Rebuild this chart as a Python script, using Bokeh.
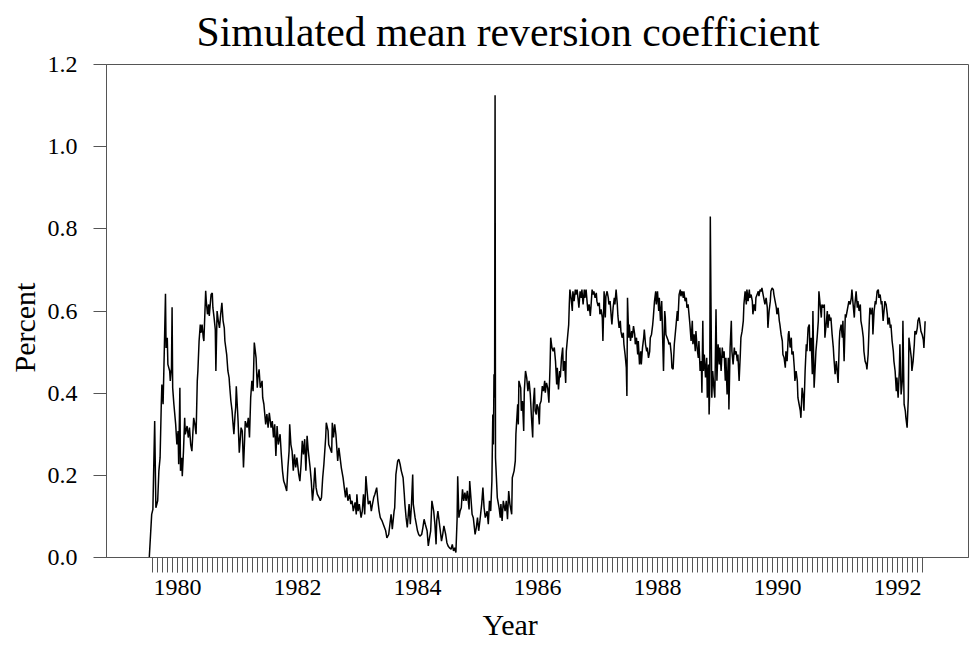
from bokeh.plotting import figure
from bokeh.models import Range1d, FixedTicker, PrintfTickFormatter, Title
from bokeh.embed import file_html
from bokeh.resources import INLINE

# (decimal year, coefficient)
seg_1979_1981 = [(1979.53,0.000),(1979.57,0.105),(1979.59,0.117),(1979.62,0.332),(1979.64,0.121),(1979.67,0.138),(1979.69,0.211),(1979.71,0.243),(1979.73,0.373),(1979.74,0.421),
 (1979.76,0.373),(1979.78,0.502),(1979.80,0.642),(1979.81,0.510),(1979.83,0.535),(1979.84,0.470),(1979.87,0.454),(1979.88,0.430),(1979.90,0.462),(1979.91,0.609),
 (1979.92,0.413),(1979.94,0.373),(1979.97,0.324),(1979.99,0.275),(1980.01,0.308),(1980.02,0.227),(1980.04,0.413),(1980.05,0.211),(1980.07,0.243),(1980.08,0.198),
 (1980.10,0.259),(1980.12,0.340),(1980.13,0.300),(1980.16,0.320),(1980.18,0.292),(1980.20,0.316),(1980.22,0.275),(1980.24,0.259),(1980.27,0.340),(1980.29,0.324),
 (1980.31,0.300),(1980.33,0.430),(1980.34,0.454),(1980.36,0.527),(1980.38,0.567),(1980.39,0.547),(1980.41,0.567),(1980.43,0.535),(1980.44,0.527),(1980.47,0.649),
 (1980.48,0.624),(1980.50,0.592),(1980.52,0.616),(1980.53,0.588),(1980.56,0.640),(1980.58,0.644),(1980.59,0.608),(1980.61,0.584),(1980.63,0.555),(1980.64,0.454),
 (1980.66,0.600),(1980.68,0.576),(1980.70,0.559),(1980.72,0.592),(1980.74,0.620),(1980.76,0.576),(1980.78,0.559),(1980.79,0.527),(1980.82,0.494),(1980.84,0.454),
 (1980.86,0.438),(1980.87,0.417),(1980.89,0.381),(1980.91,0.357),(1980.92,0.336),(1980.94,0.300),(1980.96,0.349),(1980.97,0.365),(1980.98,0.417),(1981.01,0.332),
 (1981.03,0.255),(1981.06,0.316),(1981.08,0.308),(1981.10,0.219),(1981.12,0.292),(1981.13,0.332),(1981.16,0.316),(1981.18,0.340),(1981.20,0.292),(1981.22,0.389),
 (1981.24,0.430),(1981.26,0.405),(1981.28,0.523),(1981.31,0.486),(1981.33,0.413),(1981.34,0.438),(1981.36,0.458),(1981.38,0.413),(1981.41,0.430),(1981.42,0.389),
 (1981.44,0.373),(1981.47,0.324),(1981.49,0.349),(1981.51,0.316),(1981.53,0.352),(1981.56,0.316),(1981.58,0.332),(1981.60,0.292),(1981.62,0.324)]

seg_1981_1983 = [(1981.64,0.247),(1981.66,0.320),(1981.68,0.275),(1981.71,0.300),(1981.73,0.251),(1981.75,0.211),(1981.77,0.186),(1981.79,0.178),(1981.82,0.162),(1981.84,0.219),
 (1981.86,0.259),(1981.87,0.324),(1981.89,0.275),(1981.91,0.259),(1981.93,0.211),(1981.95,0.251),(1981.97,0.219),(1981.99,0.243),(1982.02,0.203),(1982.04,0.186),
 (1982.06,0.227),(1982.08,0.284),(1982.10,0.251),(1982.12,0.288),(1982.14,0.211),(1982.16,0.296),(1982.18,0.259),(1982.21,0.219),(1982.23,0.186),(1982.25,0.138),
 (1982.27,0.170),(1982.29,0.219),(1982.31,0.170),(1982.33,0.154),(1982.36,0.146),(1982.38,0.138),(1982.40,0.146),(1982.42,0.194),(1982.44,0.227),(1982.47,0.292),
 (1982.48,0.328),(1982.51,0.308),(1982.52,0.275),(1982.54,0.267),(1982.57,0.255),(1982.58,0.328),(1982.60,0.292),(1982.62,0.324),(1982.64,0.300),(1982.67,0.235),
 (1982.69,0.267),(1982.71,0.243),(1982.73,0.219),(1982.76,0.194),(1982.78,0.170),(1982.80,0.146),(1982.82,0.170),(1982.84,0.138),(1982.87,0.154),(1982.89,0.130),
 (1982.91,0.138),(1982.93,0.113),(1982.96,0.134),(1982.98,0.105),(1982.99,0.154),(1983.01,0.113),(1983.03,0.130),(1983.06,0.097),(1983.08,0.113),(1983.10,0.154),
 (1983.12,0.105),(1983.14,0.198),(1983.16,0.162),(1983.18,0.130),(1983.21,0.138),(1983.23,0.113),(1983.25,0.130),(1983.27,0.146),(1983.29,0.154),(1983.32,0.170),
 (1983.34,0.138),(1983.36,0.113),(1983.38,0.097),(1983.41,0.089),(1983.43,0.081),(1983.45,0.073),(1983.47,0.065),(1983.49,0.048),(1983.52,0.056),(1983.54,0.081),
 (1983.56,0.105),(1983.58,0.069),(1983.61,0.113),(1983.62,0.121),(1983.64,0.202),(1983.67,0.235),(1983.69,0.239),(1983.71,0.227),(1983.73,0.211),(1983.76,0.194),
 (1983.78,0.154),(1983.79,0.130)]

seg_1983_1985 = [(1983.81,0.097),(1983.83,0.073),(1983.86,0.130),(1983.88,0.081),(1983.90,0.130),(1983.92,0.202),(1983.93,0.130),(1983.96,0.097),(1983.98,0.081),(1984.00,0.065),
 (1984.02,0.056),(1984.04,0.052),(1984.07,0.056),(1984.09,0.073),(1984.11,0.093),(1984.13,0.081),(1984.16,0.065),(1984.18,0.028),(1984.20,0.048),(1984.22,0.065),
 (1984.24,0.138),(1984.27,0.113),(1984.29,0.081),(1984.31,0.032),(1984.32,0.089),(1984.34,0.113),(1984.36,0.089),(1984.38,0.065),(1984.40,0.040),(1984.42,0.056),
 (1984.44,0.077),(1984.47,0.056),(1984.49,0.036),(1984.51,0.028),(1984.53,0.024),(1984.56,0.020),(1984.58,0.032),(1984.60,0.016),(1984.62,0.024),(1984.64,0.012),
 (1984.66,0.093),(1984.67,0.198),(1984.69,0.097),(1984.71,0.113),(1984.73,0.121),(1984.75,0.166),(1984.77,0.138),(1984.79,0.158),(1984.81,0.138),(1984.83,0.162),
 (1984.86,0.117),(1984.87,0.186),(1984.89,0.146),(1984.91,0.105),(1984.93,0.097),(1984.96,0.056),(1984.98,0.073),(1985.00,0.097),(1985.02,0.065),(1985.04,0.089),
 (1985.07,0.130),(1985.09,0.170),(1985.11,0.121),(1985.13,0.097),(1985.16,0.113),(1985.18,0.081),(1985.20,0.138),(1985.22,0.113),(1985.24,0.186),(1985.255,0.348),
 (1985.265,0.275),(1985.275,0.446),(1985.285,0.389),(1985.293,1.125),(1985.30,0.243),(1985.31,0.211),(1985.33,0.146),(1985.36,0.121),(1985.38,0.097),(1985.39,0.130),
 (1985.41,0.089),(1985.43,0.138),(1985.46,0.113),(1985.48,0.138),(1985.50,0.093),(1985.52,0.162),(1985.54,0.130),(1985.57,0.105),(1985.58,0.194),(1985.61,0.211),
 (1985.63,0.235),(1985.64,0.300),(1985.67,0.373),(1985.68,0.324),(1985.69,0.430),(1985.72,0.413),(1985.73,0.357),(1985.75,0.381),(1985.77,0.308),(1985.78,0.405),
 (1985.80,0.454),(1985.82,0.438),(1985.84,0.405),(1985.86,0.430),(1985.88,0.397),(1985.90,0.340),(1985.92,0.292),(1985.93,0.373),(1985.95,0.413),(1985.96,0.357)]

seg_1986_1988 = [(1985.98,0.348),(1985.99,0.373),(1986.01,0.365),(1986.03,0.324),(1986.04,0.373),(1986.06,0.381),(1986.08,0.417),(1986.10,0.405),(1986.12,0.430),(1986.13,0.401),
 (1986.15,0.425),(1986.17,0.413),(1986.19,0.377),(1986.21,0.470),(1986.22,0.535),(1986.24,0.511),(1986.26,0.502),(1986.28,0.511),(1986.30,0.478),(1986.32,0.421),
 (1986.33,0.462),(1986.35,0.409),(1986.37,0.454),(1986.38,0.438),(1986.40,0.486),(1986.42,0.511),(1986.43,0.454),(1986.45,0.478),(1986.47,0.425),(1986.48,0.502),
 (1986.50,0.535),(1986.52,0.567),(1986.53,0.616),(1986.54,0.652),(1986.56,0.632),(1986.58,0.600),(1986.59,0.648),(1986.61,0.624),(1986.63,0.652),(1986.64,0.640),
 (1986.66,0.652),(1986.68,0.624),(1986.69,0.608),(1986.71,0.648),(1986.73,0.632),(1986.74,0.652),(1986.76,0.616),(1986.78,0.652),(1986.79,0.632),(1986.81,0.652),
 (1986.83,0.616),(1986.84,0.600),(1986.86,0.616),(1986.88,0.588),(1986.89,0.608),(1986.91,0.652),(1986.93,0.640),(1986.94,0.648),(1986.96,0.632),(1986.98,0.644),
 (1986.99,0.624),(1987.01,0.612),(1987.03,0.620),(1987.04,0.592),(1987.06,0.604),(1987.08,0.584),(1987.09,0.527),(1987.11,0.648),(1987.13,0.584),(1987.14,0.636),
 (1987.16,0.648),(1987.18,0.632),(1987.19,0.616),(1987.21,0.624),(1987.23,0.584),(1987.24,0.567),(1987.26,0.608),(1987.28,0.632),(1987.29,0.616),(1987.31,0.652),
 (1987.33,0.616),(1987.34,0.588),(1987.36,0.559),(1987.38,0.576),(1987.39,0.551),(1987.41,0.535),(1987.43,0.547),(1987.44,0.519),(1987.46,0.494),(1987.48,0.462),
 (1987.49,0.393),(1987.50,0.632),(1987.52,0.535),(1987.53,0.567),(1987.55,0.527),(1987.57,0.551),(1987.58,0.535),(1987.60,0.563),(1987.62,0.543),(1987.63,0.519),
 (1987.65,0.535),(1987.67,0.494),(1987.68,0.527),(1987.70,0.470),(1987.72,0.502),(1987.73,0.470),(1987.75,0.511),(1987.77,0.535),(1987.78,0.555),(1987.80,0.519),
 (1987.82,0.502),(1987.83,0.511),(1987.85,0.486),(1987.87,0.502),(1987.88,0.535),(1987.90,0.543),(1987.92,0.567),(1987.93,0.584),(1987.95,0.624),(1987.97,0.648),
 (1987.98,0.616),(1988.00,0.648),(1988.02,0.600),(1988.03,0.632),(1988.05,0.576),(1988.07,0.624),(1988.08,0.567),(1988.10,0.454),(1988.12,0.600),(1988.13,0.584)]

seg_1988_1990 = [(1988.14,0.543),(1988.16,0.535),(1988.18,0.527),(1988.19,0.519),(1988.21,0.523),(1988.23,0.494),(1988.24,0.462),(1988.26,0.458),(1988.28,0.519),(1988.29,0.535),
 (1988.31,0.567),(1988.33,0.600),(1988.34,0.576),(1988.36,0.640),(1988.38,0.652),(1988.39,0.636),(1988.41,0.648),(1988.43,0.632),(1988.44,0.648),(1988.46,0.624),
 (1988.48,0.632),(1988.49,0.608),(1988.51,0.616),(1988.53,0.584),(1988.54,0.567),(1988.56,0.527),(1988.58,0.576),(1988.59,0.519),(1988.61,0.543),(1988.63,0.502),
 (1988.64,0.551),(1988.66,0.511),(1988.68,0.486),(1988.69,0.527),(1988.71,0.454),(1988.73,0.478),(1988.74,0.401),(1988.755,0.576),(1988.765,0.454),(1988.78,0.494),
 (1988.80,0.438),(1988.82,0.486),(1988.83,0.389),(1988.85,0.470),(1988.86,0.348),(1988.87,0.405),(1988.88,0.830),(1988.89,0.640),(1988.905,0.389),(1988.92,0.454),
 (1988.94,0.413),(1988.955,0.389),(1988.965,0.494),(1988.975,0.604),(1988.99,0.430),(1989.01,0.519),(1989.03,0.470),(1989.04,0.511),(1989.06,0.454),(1989.08,0.511),
 (1989.09,0.486),(1989.11,0.502),(1989.13,0.430),(1989.14,0.486),(1989.16,0.397),(1989.18,0.486),(1989.19,0.360),(1989.21,0.511),(1989.23,0.576),(1989.24,0.502),
 (1989.26,0.470),(1989.28,0.511),(1989.29,0.494),(1989.31,0.502),(1989.33,0.478),(1989.34,0.494),(1989.36,0.430),(1989.38,0.494),(1989.39,0.535),(1989.41,0.551),
 (1989.43,0.576),(1989.44,0.616),(1989.46,0.648),(1989.48,0.616),(1989.49,0.652),(1989.51,0.624),(1989.53,0.652),(1989.54,0.632),(1989.56,0.640),(1989.58,0.624),
 (1989.59,0.592),(1989.61,0.616),(1989.63,0.600),(1989.64,0.632),(1989.66,0.640),(1989.68,0.648),(1989.69,0.636),(1989.71,0.652),(1989.73,0.648),(1989.74,0.656),
 (1989.76,0.640),(1989.78,0.624),(1989.79,0.616),(1989.81,0.632),(1989.83,0.608),(1989.84,0.559),(1989.86,0.600),(1989.88,0.624),(1989.89,0.648),(1989.91,0.656),
 (1989.93,0.652),(1989.94,0.640),(1989.96,0.624),(1989.98,0.608),(1989.99,0.592),(1990.01,0.608),(1990.03,0.576),(1990.04,0.567),(1990.06,0.543),(1990.08,0.527),
 (1990.09,0.494),(1990.11,0.486),(1990.13,0.462),(1990.14,0.502),(1990.16,0.478),(1990.18,0.543),(1990.19,0.551),(1990.21,0.511),(1990.23,0.535),(1990.24,0.494),
 (1990.26,0.502),(1990.28,0.462),(1990.29,0.430)]

seg_1990_1992 = [(1990.31,0.454),(1990.33,0.430),(1990.34,0.389),(1990.36,0.373),(1990.38,0.357),(1990.39,0.340),(1990.41,0.413),(1990.43,0.389),(1990.44,0.357),(1990.46,0.454),
 (1990.48,0.519),(1990.49,0.502),(1990.51,0.559),(1990.53,0.567),(1990.54,0.502),(1990.56,0.535),(1990.58,0.446),(1990.59,0.600),(1990.61,0.413),(1990.63,0.470),
 (1990.64,0.502),(1990.66,0.535),(1990.68,0.576),(1990.69,0.648),(1990.71,0.616),(1990.73,0.584),(1990.74,0.616),(1990.76,0.608),(1990.78,0.616),(1990.79,0.535),
 (1990.81,0.567),(1990.83,0.600),(1990.84,0.559),(1990.86,0.592),(1990.88,0.576),(1990.89,0.584),(1990.91,0.543),(1990.93,0.511),(1990.94,0.486),(1990.96,0.446),
 (1990.98,0.478),(1990.99,0.462),(1991.01,0.425),(1991.03,0.527),(1991.04,0.551),(1991.06,0.567),(1991.08,0.535),(1991.09,0.576),(1991.11,0.478),(1991.13,0.592),
 (1991.14,0.584),(1991.16,0.600),(1991.18,0.616),(1991.19,0.624),(1991.21,0.616),(1991.23,0.632),(1991.24,0.652),(1991.26,0.616),(1991.28,0.584),(1991.29,0.616),
 (1991.31,0.648),(1991.33,0.608),(1991.34,0.624),(1991.36,0.600),(1991.38,0.616),(1991.39,0.576),(1991.41,0.559),(1991.43,0.535),(1991.44,0.502),(1991.46,0.478),
 (1991.48,0.470),(1991.49,0.458),(1991.51,0.494),(1991.53,0.576),(1991.54,0.608),(1991.56,0.592),(1991.58,0.608),(1991.59,0.543),(1991.61,0.600),(1991.63,0.624),
 (1991.64,0.616),(1991.66,0.648),(1991.68,0.652),(1991.69,0.632),(1991.71,0.640),(1991.73,0.616),(1991.74,0.624),(1991.76,0.576),(1991.78,0.608),(1991.79,0.624),
 (1991.81,0.616),(1991.83,0.592),(1991.84,0.567),(1991.86,0.584),(1991.88,0.559),(1991.89,0.567),(1991.91,0.527),(1991.93,0.502),(1991.94,0.478),(1991.96,0.454),
 (1991.98,0.405),(1991.99,0.438),(1992.01,0.389),(1992.03,0.454),(1992.04,0.519),(1992.06,0.397),(1992.08,0.430),(1992.09,0.576),(1992.11,0.373),(1992.13,0.357),
 (1992.14,0.340),(1992.16,0.316),(1992.18,0.389),(1992.19,0.535),(1992.21,0.511),(1992.23,0.486),(1992.24,0.454),(1992.26,0.478),(1992.28,0.519),(1992.29,0.551),
 (1992.31,0.543),(1992.33,0.559),(1992.34,0.576),(1992.36,0.584),(1992.38,0.563),(1992.39,0.551),(1992.41,0.543),(1992.43,0.530),(1992.44,0.510),(1992.46,0.575)]

segments = [seg_1979_1981, seg_1981_1983, seg_1983_1985, seg_1986_1988, seg_1988_1990, seg_1990_1992]
years = [p[0] for s in segments for p in s]
coef = [p[1] for s in segments for p in s]

title_text = "Simulated mean reversion coefficient"
x_label = "Year"
y_label = "Percent"
year_labels = [1980, 1982, 1984, 1986, 1988, 1990, 1992]
y_ticks = [0.0, 0.2, 0.4, 0.6, 0.8, 1.0, 1.2]
month_ticks = [1979 + m / 12 for m in range(7, 162)]  # Aug 1979 .. Jun 1992

FONT = "Liberation Serif"
AX = "#555555"

p = figure(width=974, height=653, output_backend="svg", toolbar_location=None, title=None,
           x_range=Range1d(1978.817, 1993.183), y_range=Range1d(0, 1.2),
           min_border_left=106, min_border_right=6, min_border_top=63, min_border_bottom=96)
p.background_fill_color = "white"
p.border_fill_color = "white"
p.outline_line_color = AX
p.outline_line_width = 1
p.xgrid.visible = False
p.ygrid.visible = False

xa = p.xaxis[0]
xa.ticker = FixedTicker(ticks=year_labels, minor_ticks=month_ticks)
xa.major_label_text_font = FONT
xa.major_label_text_font_size = "24px"
xa.major_label_text_color = "black"
xa.major_label_standoff = 7
xa.major_tick_out = 15
xa.major_tick_in = 0
xa.minor_tick_out = 15
xa.minor_tick_in = 0
xa.major_tick_line_color = AX
xa.minor_tick_line_color = AX
xa.axis_line_color = AX

ya = p.yaxis[0]
ya.ticker = FixedTicker(ticks=y_ticks, minor_ticks=[])
ya.formatter = PrintfTickFormatter(format="%.1f")
ya.major_label_text_font = FONT
ya.major_label_text_font_size = "24px"
ya.major_label_text_color = "black"
ya.major_label_standoff = 16
ya.major_tick_out = 13
ya.major_tick_in = 0
ya.minor_tick_out = 0
ya.minor_tick_in = 0
ya.major_tick_line_color = AX
ya.axis_line_color = AX

p.line(years, coef, line_color="black", line_width=1.5)

p.add_layout(Title(text=title_text, text_font=FONT, text_font_size="41.7px",
                   text_font_style="normal", text_color="black",
                   align="left", offset=90, vertical_align="top", standoff=16), "above")
p.add_layout(Title(text=x_label, text_font=FONT, text_font_size="30px",
                   text_font_style="normal", text_color="black",
                   align="left", offset=376, vertical_align="top", standoff=20), "below")
p.add_layout(Title(text=y_label, text_font=FONT, text_font_size="30px",
                   text_font_style="normal", text_color="black",
                   align="left", offset=185, vertical_align="bottom", standoff=8), "left")

open("out.html", "w").write(file_html(p, INLINE))
